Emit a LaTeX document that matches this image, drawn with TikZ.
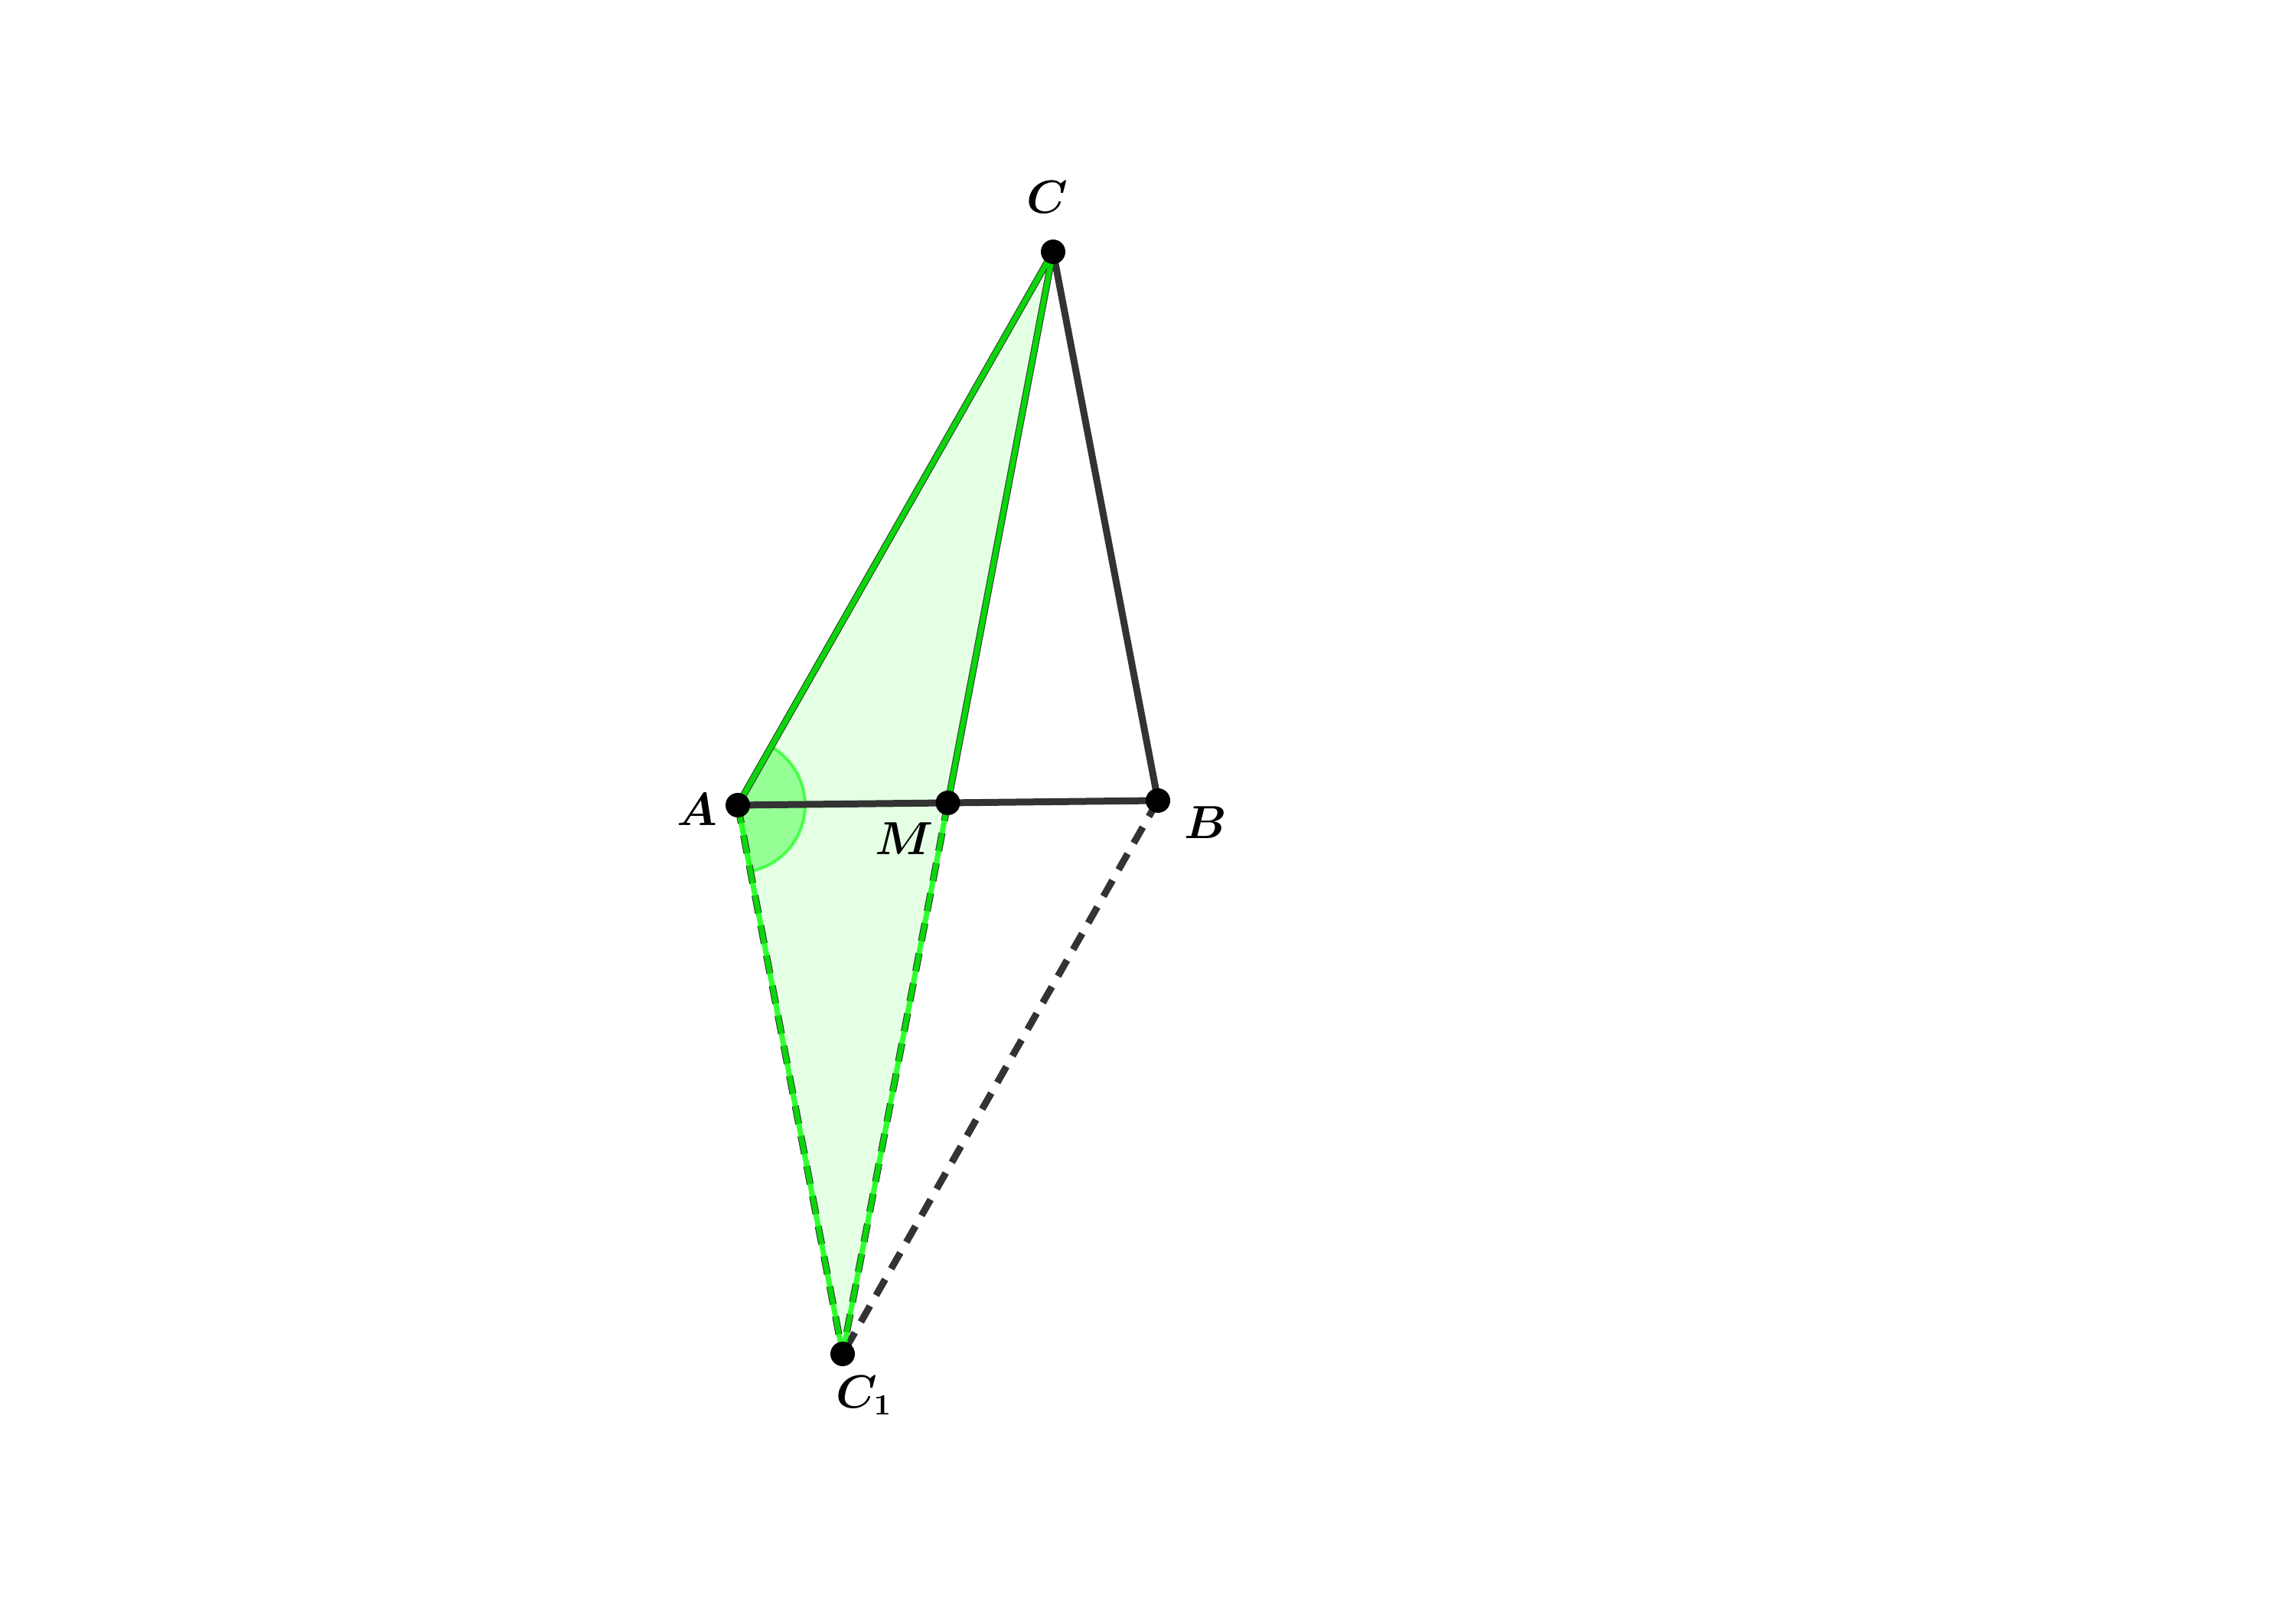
\documentclass[tikz,border=0pt]{standalone}
\usetikzlibrary{calc}
\tikzset{
  seg/.style={line width=0.09cm, color=black!80},
  dseg/.style={seg, dash pattern=on 0.24cm off 0.16cm},
  gseg/.style={line width=0.07cm, color=green, opacity=0.8},
  dot/.style={circle, fill=black, inner sep=0pt, minimum size=0.32cm},
  lbl/.style={font=\fontsize{16}{19}\selectfont\boldmath}
}
\begin{document}
\begin{tikzpicture}
  \useasboundingbox (0,0) rectangle (30,20.97);
  % points
  \coordinate (A) at (9.64,10.45);
  \coordinate (B) at (15.13,10.51);
  \coordinate (C) at (13.76,17.68);
  \coordinate (M) at ($(A)!0.5!(B)$);
  \coordinate (C1) at ($(M)!-1!(C)$);
  % shaded triangles
  \fill[green, opacity=0.1] (A) -- (C) -- (M) -- (C1) -- cycle;
  \fill[green, opacity=0.35] (A) -- ($(A)!0.88cm!(C1)$) arc[start angle=-79.2, end angle=60.3, radius=0.88cm] -- cycle;
  \draw[green, opacity=0.6, line width=0.04cm] ($(A)!0.88cm!(C1)$) arc[start angle=-79.2, end angle=60.3, radius=0.88cm];
  % edges
  \draw[seg] (A) -- (B);
  \draw[seg] (C) -- (B);
  \draw[seg] (A) -- (C);
  \draw[seg] (M) -- (C);
  \draw[dseg] (B) -- (C1);
  \draw[dseg] (A) -- (C1);
  \draw[dseg] (M) -- (C1);
  \draw[gseg] (A) -- (C);
  \draw[gseg] (M) -- (C);
  \draw[gseg] (A) -- (C1);
  \draw[gseg] (M) -- (C1);
  % dots and labels
  \foreach \p in {A,B,C,M,C1}
    \node[dot] (d\p) at (\p) {};
  \node[lbl] (lC) at (13.68,18.39) {$C$};
  \node[lbl] (lA) at (9.11,10.39) {$A$};
  \node[lbl] (lM) at (11.82,10.01) {$M$};
  \node[lbl] (lB) at (15.75,10.22) {$B$};
  \node[lbl] (lC1) at (11.29,2.74) {$C_1$};
\end{tikzpicture}
\end{document}
